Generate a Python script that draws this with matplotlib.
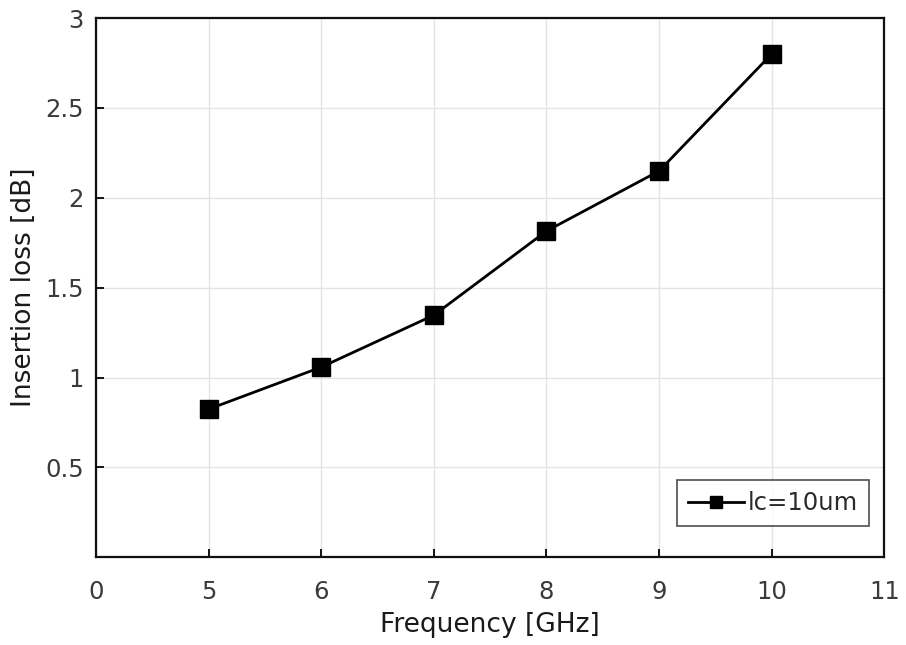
import matplotlib.pyplot as plt
import numpy as np

# insertion loss vs frequency, lc = 10 um
freq = [5, 6, 7, 8, 9, 10]
loss = [0.824, 1.058, 1.347, 1.815, 2.149, 2.80]

xtick_pos = [4, 5, 6, 7, 8, 9, 10, 11]
xtick_labels = ['0', '5', '6', '7', '8', '9', '10', '11']
ytick_pos = [0.5, 1, 1.5, 2, 2.5, 3]
ytick_labels = ['0.5', '1', '1.5', '2', '2.5', '3']

plt.rcParams['font.family'] = ['DejaVu Sans']

fig = plt.figure(figsize=(9.06, 6.45), dpi=100)
ax = fig.add_axes([0.106, 0.136, 0.870, 0.836])

ax.plot(freq, loss, color='black', linewidth=2.0, marker='s',
        markersize=13, label='lc=10um')

ax.set_xlim(4, 11)
ax.set_ylim(0, 3)
ax.set_xticks(xtick_pos)
ax.set_xticklabels(xtick_labels)
ax.set_yticks(ytick_pos)
ax.set_yticklabels(ytick_labels)

ax.grid(True, color='#e4e4e4', linewidth=1.0)
ax.set_axisbelow(True)

for s in ax.spines.values():
    s.set_linewidth(1.6)
    s.set_color('#111111')

ax.tick_params(axis='x', direction='in', length=6, width=1.3,
               labelsize=17.5, pad=16, labelcolor='#3a3a3a')
ax.tick_params(axis='y', direction='in', length=6, width=1.3,
               labelsize=17.5, pad=9, labelcolor='#3a3a3a')

ax.set_xlabel('Frequency [GHz]', fontsize=19, color='#1a1a1a', labelpad=6)
ax.set_ylabel('Insertion loss [dB]', fontsize=19, color='#1a1a1a', labelpad=6)

leg = ax.legend(loc='lower right', bbox_to_anchor=(0.996, 0.035), fontsize=17.5,
                frameon=True, fancybox=False, handlelength=2.3,
                handletextpad=0.15, borderpad=0.45, markerscale=0.65)
leg.get_frame().set_edgecolor('#222222')
leg.get_frame().set_linewidth(1.2)
for t in leg.get_texts():
    t.set_color('#2a2a2a')

fig.savefig('out.png', dpi=100)
